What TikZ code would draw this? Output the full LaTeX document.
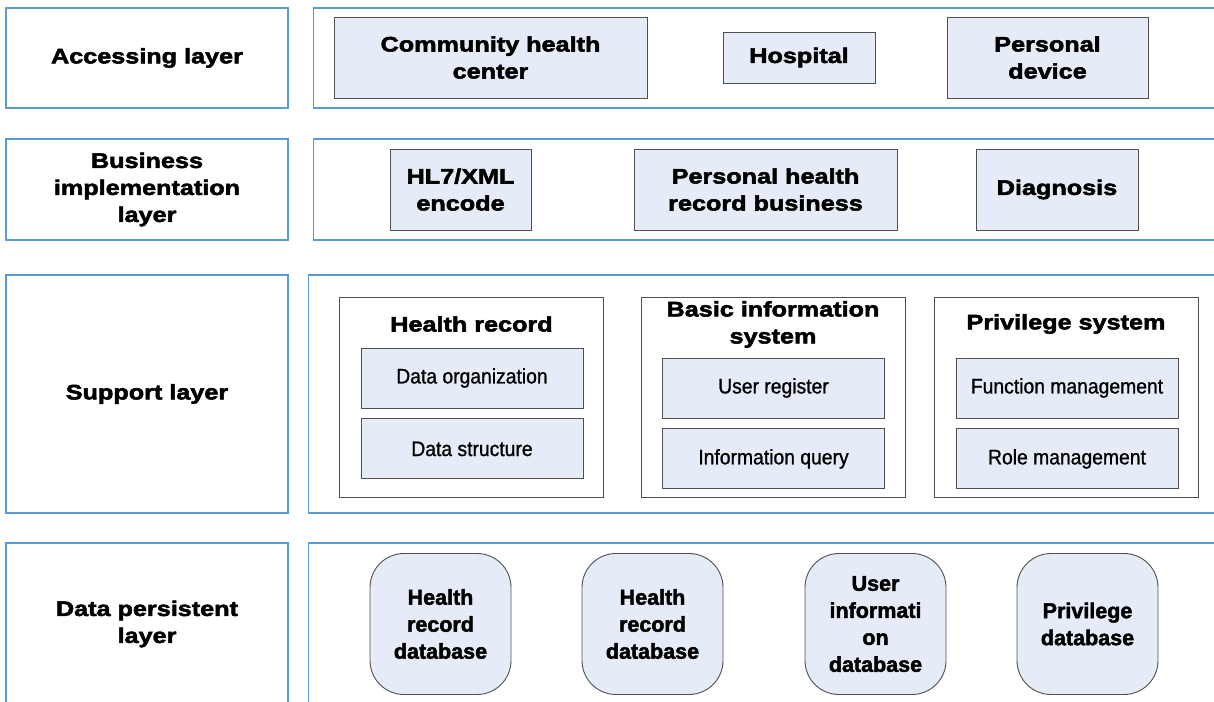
\documentclass[tikz,border=0pt]{standalone}
\usepackage{fontspec}
\setmainfont{Liberation Sans}
\newfontfamily\widebold{Liberation Sans Bold}[FakeStretch=1.2,FakeBold=2.5]
\newfontfamily\heavybold{Liberation Sans Bold}[FakeBold=2]
\newfontfamily\partfont{Liberation Sans}[FakeStretch=0.92,FakeBold=1]
\usetikzlibrary{positioning}
\definecolor{layerblue}{RGB}{91,155,213}
\definecolor{boxfill}{RGB}{230,236,247}
\definecolor{boxline}{RGB}{80,80,80}

\begin{document}
\begin{tikzpicture}[x=1pt,y=-1pt,
  layer/.style={draw=layerblue,line width=1.2pt,minimum width=282pt,align=center,font=\widebold\fontsize{21}{27}\selectfont},
  band/.style={draw=layerblue,line width=1.2pt,minimum width=925pt,anchor=west},
  unit/.style={draw=boxline,fill=boxfill,line width=0.9pt,align=center,inner sep=0pt,font=\widebold\fontsize{21}{27}\selectfont},
  group/.style={draw=boxline,line width=0.9pt,minimum width=264pt,minimum height=200pt,inner sep=0pt},
  title/.style={align=center,inner sep=0pt,font=\widebold\fontsize{21}{27}\selectfont},
  part/.style={draw=boxline,fill=boxfill,line width=0.9pt,minimum width=222pt,minimum height=60pt,font=\partfont\fontsize{21}{24}\selectfont},
  store/.style={draw=boxline,fill=boxfill,line width=0.9pt,rounded corners=34pt,minimum width=141pt,minimum height=141pt,align=center,inner sep=0pt,font=\heavybold\fontsize{21.5}{27}\selectfont},
  node distance=10pt]
  \useasboundingbox (0,0) rectangle (1214,701);
  \node[layer,minimum height=100pt] (acc) at (147,58) {Accessing layer};
  \node[layer,minimum height=101pt] (biz) at (147,189.5) {Business\\implementation\\layer};
  \node[layer,minimum height=238pt] (sup) at (147,394) {Support layer};
  \node[layer,minimum height=162pt] (per) at (147,624) {Data persistent\\layer};
  \node[band,minimum height=100pt] (accband) at (313,58) {};
  \node[band,minimum height=101pt] (bizband) at (313,189.5) {};
  \node[band,minimum height=238pt] (supband) at (308,394) {};
  \node[band,minimum height=162pt] (perband) at (308,624) {};
  \node[unit,minimum width=313pt,minimum height=81pt] (chc) at (490.5,57.5) {Community health\\center};
  \node[unit,minimum width=152pt,minimum height=51pt] (hosp) at (799,57.5) {Hospital};
  \node[unit,minimum width=201pt,minimum height=81pt] (dev) at (1047.5,57.5) {Personal\\device};
  \node[unit,minimum width=141pt,minimum height=81pt] (hl7) at (460.5,189.5) {HL7/XML\\encode};
  \node[unit,minimum width=263pt,minimum height=81pt] (phr) at (765.5,189.5) {Personal health\\record business};
  \node[unit,minimum width=162pt,minimum height=81pt] (diag) at (1057,189.5) {Diagnosis};
  \node[group] (hrg) at (471.5,397) {};
  \node[title] (hrt) at (471.5,324) {Health record};
  \node[part] (dorg) at (472,378) {Data organization};
  \node[part] (dstr) [below=of dorg] {Data structure};
  \node[group] (big) at (773,397) {};
  \node[title] (bit) at (773,324.5) {Basic information\\system};
  \node[part] (ureg) at (773.5,388) {User register};
  \node[part] (iq) [below=of ureg] {Information query};
  \node[group] (prg) at (1066,397) {};
  \node[title] (prt) at (1066,324) {Privilege system};
  \node[part] (fm) at (1067,388) {Function management};
  \node[part] (rm) [below=of fm] {Role management};
  \node[store] (db1) at (440.5,624) {Health\\record\\database};
  \node[store] (db2) at (652.5,624) {Health\\record\\database};
  \node[store] (db3) at (875.5,624) {User\\informati\\on\\database};
  \node[store] (db4) at (1087.5,624) {Privilege\\database};
\end{tikzpicture}
\end{document}
